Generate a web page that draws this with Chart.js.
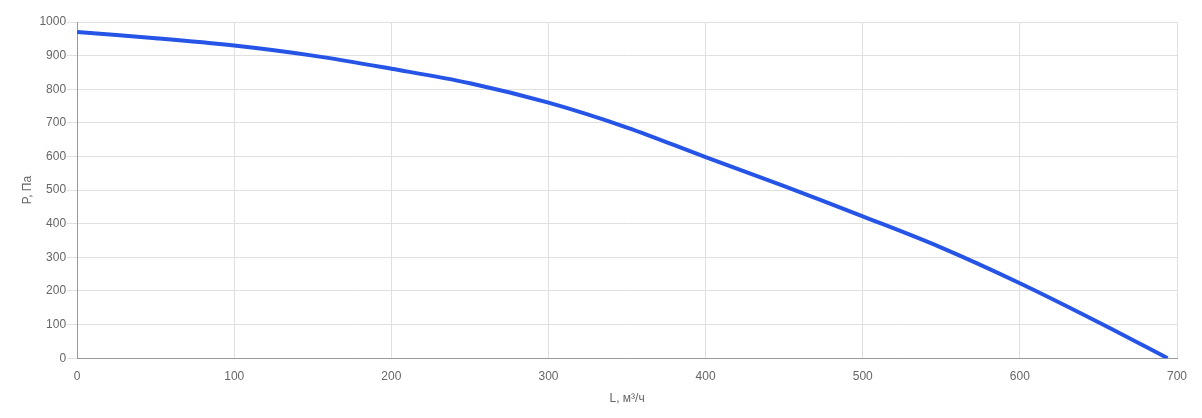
<!DOCTYPE html>
<html>
<head>
<meta charset="utf-8">
<script src="https://cdn.jsdelivr.net/npm/chart.js@4"></script>
<style>
  html, body { margin: 0; padding: 0; background: #fff; }
  #wrap { width: 1202px; height: 418px; }
</style>
</head>
<body>
<div id="wrap"><canvas id="chart-area"></canvas></div>
<script>
// air flow, m3/h
var flow = [0, 50, 100, 150, 200, 250, 300, 350, 400, 450, 500, 550, 600, 650, 694];
// pressure, Pa
var pressure = [970, 952, 930, 900, 861, 818, 760, 686, 598, 512, 422, 329, 223, 107, 0];

var xTitle = "L, м³/ч";
var yTitle = "P, Па";

var points = flow.map(function (x, i) {
    return {x: x, y: pressure[i]};
});

Chart.defaults.font.family = "Arial, 'Liberation Sans', sans-serif";
Chart.defaults.font.size = 12;
Chart.defaults.color = "#666";

var plainTick = function (value) {
    return String(value);  // no thousands separator
};

var ctx = "chart-area";
window.chart = new Chart(ctx, {
    type: "scatter",
    data: {
        datasets: [{
            data: points,
            showLine: true,
            borderColor: "rgb(38, 84, 230)",
            borderWidth: 4,
            pointRadius: 0,
            tension: 0.35,
            fill: false
        }]
    },
    options: {
        responsive: true,
        maintainAspectRatio: false,
        animation: false,
        layout: {padding: {left: 20, right: 25, top: 22, bottom: 12}},
        plugins: {
            legend: {display: false},
            tooltip: {enabled: false}
        },
        scales: {
            x: {
                type: "linear",
                min: 0,
                max: 700,
                ticks: {stepSize: 100, padding: 11, callback: plainTick},
                grid: {color: "#e0e0e0", drawTicks: false},
                border: {color: "#999"},
                title: {display: true, text: xTitle, padding: {top: -3, bottom: 0}}
            },
            y: {
                min: 0,
                max: 1000,
                ticks: {stepSize: 100, padding: 1, callback: plainTick},
                grid: {color: "#e0e0e0", tickLength: 10},
                border: {color: "#999"},
                title: {display: true, text: yTitle, padding: {top: 0, bottom: 4}}
            }
        }
    }
});
</script>
</body>
</html>
